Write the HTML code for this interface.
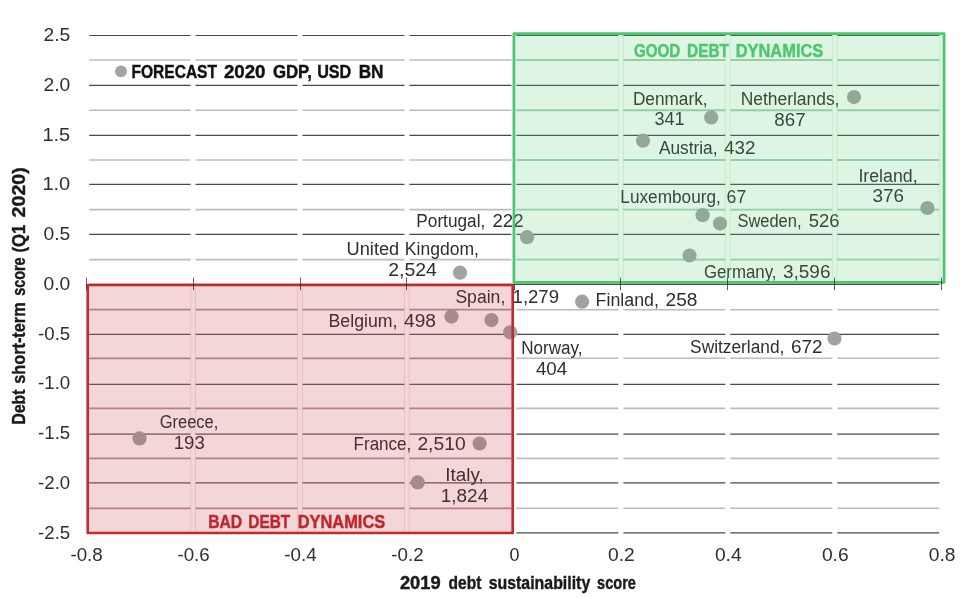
<!DOCTYPE html>
<html><head><meta charset="utf-8"><title>Debt dynamics</title>
<style>
html,body{margin:0;padding:0;background:#fff;}
svg{display:block;font-family:"Liberation Sans",sans-serif;will-change:transform;}
</style></head><body>
<svg width="969" height="598" viewBox="0 0 969 598">
<rect width="969" height="598" fill="#fff"/>
<g fill="none">
<line x1="89.2" x2="514.3" y1="532.80" y2="532.80" stroke="#6a5657" stroke-width="1.3"/>
<line x1="514.3" x2="939.2" y1="532.80" y2="532.80" stroke="#4a4a4a" stroke-width="1.2"/>
<line x1="89.2" x2="514.3" y1="508.30" y2="508.30" stroke="#b39696" stroke-width="1.7"/>
<line x1="514.3" x2="939.2" y1="508.30" y2="508.30" stroke="#bcbcbc" stroke-width="1.6"/>
<line x1="89.2" x2="514.3" y1="482.80" y2="482.80" stroke="#6a5657" stroke-width="1.3"/>
<line x1="514.3" x2="939.2" y1="482.80" y2="482.80" stroke="#4a4a4a" stroke-width="1.2"/>
<line x1="89.2" x2="514.3" y1="458.40" y2="458.40" stroke="#b39696" stroke-width="1.7"/>
<line x1="514.3" x2="939.2" y1="458.40" y2="458.40" stroke="#bcbcbc" stroke-width="1.6"/>
<line x1="89.2" x2="514.3" y1="434.10" y2="434.10" stroke="#6a5657" stroke-width="1.3"/>
<line x1="514.3" x2="939.2" y1="434.10" y2="434.10" stroke="#4a4a4a" stroke-width="1.2"/>
<line x1="89.2" x2="514.3" y1="408.40" y2="408.40" stroke="#b39696" stroke-width="1.7"/>
<line x1="514.3" x2="939.2" y1="408.40" y2="408.40" stroke="#bcbcbc" stroke-width="1.6"/>
<line x1="89.2" x2="514.3" y1="384.30" y2="384.30" stroke="#6a5657" stroke-width="1.3"/>
<line x1="514.3" x2="939.2" y1="384.30" y2="384.30" stroke="#4a4a4a" stroke-width="1.2"/>
<line x1="89.2" x2="514.3" y1="358.30" y2="358.30" stroke="#b39696" stroke-width="1.7"/>
<line x1="514.3" x2="939.2" y1="358.30" y2="358.30" stroke="#bcbcbc" stroke-width="1.6"/>
<line x1="89.2" x2="514.3" y1="334.40" y2="334.40" stroke="#6a5657" stroke-width="1.3"/>
<line x1="514.3" x2="939.2" y1="334.40" y2="334.40" stroke="#4a4a4a" stroke-width="1.2"/>
<line x1="89.2" x2="514.3" y1="309.70" y2="309.70" stroke="#b39696" stroke-width="1.7"/>
<line x1="514.3" x2="939.2" y1="309.70" y2="309.70" stroke="#bcbcbc" stroke-width="1.6"/>
<line x1="89.2" x2="513.0" y1="259.60" y2="259.60" stroke="#bcbcbc" stroke-width="1.6"/>
<line x1="513.0" x2="939.2" y1="259.60" y2="259.60" stroke="#a9ceb7" stroke-width="1.9"/>
<line x1="89.2" x2="513.0" y1="234.40" y2="234.40" stroke="#4a4a4a" stroke-width="1.2"/>
<line x1="513.0" x2="939.2" y1="234.40" y2="234.40" stroke="#44544a" stroke-width="1.2"/>
<line x1="89.2" x2="513.0" y1="209.60" y2="209.60" stroke="#bcbcbc" stroke-width="1.6"/>
<line x1="513.0" x2="939.2" y1="209.60" y2="209.60" stroke="#a9ceb7" stroke-width="1.9"/>
<line x1="89.2" x2="513.0" y1="184.40" y2="184.40" stroke="#4a4a4a" stroke-width="1.2"/>
<line x1="513.0" x2="939.2" y1="184.40" y2="184.40" stroke="#44544a" stroke-width="1.2"/>
<line x1="89.2" x2="513.0" y1="160.00" y2="160.00" stroke="#bcbcbc" stroke-width="1.6"/>
<line x1="513.0" x2="939.2" y1="160.00" y2="160.00" stroke="#a9ceb7" stroke-width="1.9"/>
<line x1="89.2" x2="513.0" y1="135.30" y2="135.30" stroke="#4a4a4a" stroke-width="1.2"/>
<line x1="513.0" x2="939.2" y1="135.30" y2="135.30" stroke="#44544a" stroke-width="1.2"/>
<line x1="89.2" x2="513.0" y1="110.30" y2="110.30" stroke="#bcbcbc" stroke-width="1.6"/>
<line x1="513.0" x2="939.2" y1="110.30" y2="110.30" stroke="#a9ceb7" stroke-width="1.9"/>
<line x1="89.2" x2="513.0" y1="85.40" y2="85.40" stroke="#4a4a4a" stroke-width="1.2"/>
<line x1="513.0" x2="939.2" y1="85.40" y2="85.40" stroke="#44544a" stroke-width="1.2"/>
<line x1="89.2" x2="513.0" y1="60.00" y2="60.00" stroke="#bcbcbc" stroke-width="1.6"/>
<line x1="513.0" x2="939.2" y1="60.00" y2="60.00" stroke="#a9ceb7" stroke-width="1.9"/>
<line x1="89.2" x2="513.0" y1="35.50" y2="35.50" stroke="#4a4a4a" stroke-width="1.2"/>
<line x1="513.0" x2="939.2" y1="35.50" y2="35.50" stroke="#44544a" stroke-width="1.2"/>
</g>
<g stroke="#fff" stroke-width="5">
<line x1="193.05" x2="193.05" y1="30" y2="540"/>
<line x1="300.00" x2="300.00" y1="30" y2="540"/>
<line x1="406.95" x2="406.95" y1="30" y2="540"/>
<line x1="513.90" x2="513.90" y1="30" y2="540"/>
<line x1="620.85" x2="620.85" y1="30" y2="540"/>
<line x1="727.80" x2="727.80" y1="30" y2="540"/>
<line x1="834.75" x2="834.75" y1="30" y2="540"/>
</g>
<line x1="89.2" x2="939.2" y1="284.40" y2="284.40" stroke="#4a4a4a" stroke-width="1.2"/>
<g fill="#a2a2a2">
<circle cx="121" cy="71.4" r="5.9"/>
<circle cx="139.5" cy="438.4" r="7.1"/>
<circle cx="479.6" cy="443.5" r="7.1"/>
<circle cx="417.7" cy="482.4" r="7.1"/>
<circle cx="527.1" cy="237.2" r="7.1"/>
<circle cx="460" cy="272.7" r="7.1"/>
<circle cx="491.5" cy="320.1" r="7.1"/>
<circle cx="451.5" cy="316.6" r="7.1"/>
<circle cx="510.2" cy="332.3" r="7.1"/>
<circle cx="582.1" cy="301.7" r="7.1"/>
<circle cx="834.5" cy="338.5" r="7.1"/>
<circle cx="711.2" cy="117.5" r="7.1"/>
<circle cx="643" cy="140.7" r="7.1"/>
<circle cx="702.6" cy="215.2" r="7.1"/>
<circle cx="720" cy="223.6" r="7.1"/>
<circle cx="689.5" cy="255.5" r="7.1"/>
<circle cx="854" cy="97.1" r="7.1"/>
<circle cx="927.4" cy="208" r="7.1"/>
</g>
<g>
<text x="43.50" y="41.1" font-size="18.4" fill="#2e2e2e" textLength="26.74" lengthAdjust="spacingAndGlyphs">2.5</text>
<text x="43.50" y="90.8" font-size="18.4" fill="#2e2e2e" textLength="26.74" lengthAdjust="spacingAndGlyphs">2.0</text>
<text x="42.41" y="140.6" font-size="18.4" fill="#2e2e2e" textLength="27.84" lengthAdjust="spacingAndGlyphs">1.5</text>
<text x="42.41" y="190.3" font-size="18.4" fill="#2e2e2e" textLength="27.84" lengthAdjust="spacingAndGlyphs">1.0</text>
<text x="43.50" y="240.1" font-size="18.4" fill="#2e2e2e" textLength="26.74" lengthAdjust="spacingAndGlyphs">0.5</text>
<text x="43.50" y="289.8" font-size="18.4" fill="#2e2e2e" textLength="26.74" lengthAdjust="spacingAndGlyphs">0.0</text>
<text x="38.10" y="339.6" font-size="18.4" fill="#2e2e2e" textLength="32.13" lengthAdjust="spacingAndGlyphs">-0.5</text>
<text x="38.10" y="389.3" font-size="18.4" fill="#2e2e2e" textLength="32.13" lengthAdjust="spacingAndGlyphs">-1.0</text>
<text x="38.10" y="439.1" font-size="18.4" fill="#2e2e2e" textLength="32.13" lengthAdjust="spacingAndGlyphs">-1.5</text>
<text x="38.10" y="488.8" font-size="18.4" fill="#2e2e2e" textLength="32.13" lengthAdjust="spacingAndGlyphs">-2.0</text>
<text x="38.10" y="538.6" font-size="18.4" fill="#2e2e2e" textLength="32.13" lengthAdjust="spacingAndGlyphs">-2.5</text>
<text x="70.45" y="561.1" font-size="18.2" fill="#2e2e2e" textLength="32.32" lengthAdjust="spacingAndGlyphs">-0.8</text>
<text x="177.40" y="561.1" font-size="18.2" fill="#2e2e2e" textLength="32.32" lengthAdjust="spacingAndGlyphs">-0.6</text>
<text x="284.35" y="561.1" font-size="18.2" fill="#2e2e2e" textLength="32.32" lengthAdjust="spacingAndGlyphs">-0.4</text>
<text x="391.30" y="561.1" font-size="18.2" fill="#2e2e2e" textLength="32.32" lengthAdjust="spacingAndGlyphs">-0.2</text>
<text x="509.40" y="561.1" font-size="18.2" fill="#2e2e2e" textLength="10.01" lengthAdjust="spacingAndGlyphs">0</text>
<text x="608.00" y="561.1" font-size="18.2" fill="#2e2e2e" textLength="26.72" lengthAdjust="spacingAndGlyphs">0.2</text>
<text x="714.95" y="561.1" font-size="18.2" fill="#2e2e2e" textLength="26.72" lengthAdjust="spacingAndGlyphs">0.4</text>
<text x="821.90" y="561.1" font-size="18.2" fill="#2e2e2e" textLength="26.72" lengthAdjust="spacingAndGlyphs">0.6</text>
<text x="928.85" y="561.1" font-size="18.2" fill="#2e2e2e" textLength="26.72" lengthAdjust="spacingAndGlyphs">0.8</text>
<text x="399.90" y="589.1" font-size="17.5" fill="#1a1a1a" font-weight="bold" stroke="#1a1a1a" stroke-width="0.4" textLength="40.72" lengthAdjust="spacingAndGlyphs">2019</text>
<text x="448.60" y="589.1" font-size="17.5" fill="#1a1a1a" font-weight="bold" stroke="#1a1a1a" stroke-width="0.4" textLength="32.85" lengthAdjust="spacingAndGlyphs">debt</text>
<text x="488.70" y="589.1" font-size="17.5" fill="#1a1a1a" font-weight="bold" stroke="#1a1a1a" stroke-width="0.4" textLength="101.56" lengthAdjust="spacingAndGlyphs">sustainability</text>
<text x="597.10" y="589.1" font-size="17.5" fill="#1a1a1a" font-weight="bold" stroke="#1a1a1a" stroke-width="0.4" textLength="38.88" lengthAdjust="spacingAndGlyphs">score</text>
<text x="131.44" y="77.5" font-size="18" fill="#111" font-weight="bold" stroke="#111" stroke-width="0.4" textLength="85.56" lengthAdjust="spacingAndGlyphs">FORECAST</text>
<text x="223.90" y="77.5" font-size="18" fill="#111" font-weight="bold" stroke="#111" stroke-width="0.4" textLength="41.61" lengthAdjust="spacingAndGlyphs">2020</text>
<text x="272.90" y="77.5" font-size="18" fill="#111" font-weight="bold" stroke="#111" stroke-width="0.4" textLength="38.93" lengthAdjust="spacingAndGlyphs">GDP,</text>
<text x="317.20" y="77.5" font-size="18" fill="#111" font-weight="bold" stroke="#111" stroke-width="0.4" textLength="34.10" lengthAdjust="spacingAndGlyphs">USD</text>
<text x="358.65" y="77.5" font-size="18" fill="#111" font-weight="bold" stroke="#111" stroke-width="0.4" textLength="24.81" lengthAdjust="spacingAndGlyphs">BN</text>
<text x="634.10" y="56.5" font-size="18" fill="#4fc672" font-weight="bold" stroke="#4fc672" stroke-width="0.4" textLength="46.20" lengthAdjust="spacingAndGlyphs">GOOD</text>
<text x="687.04" y="56.5" font-size="18" fill="#4fc672" font-weight="bold" stroke="#4fc672" stroke-width="0.4" textLength="41.95" lengthAdjust="spacingAndGlyphs">DEBT</text>
<text x="735.69" y="56.5" font-size="18" fill="#4fc672" font-weight="bold" stroke="#4fc672" stroke-width="0.4" textLength="87.62" lengthAdjust="spacingAndGlyphs">DYNAMICS</text>
<text x="208.20" y="528.1" font-size="17.5" fill="#c1272d" font-weight="bold" stroke="#c1272d" stroke-width="0.4" textLength="33.97" lengthAdjust="spacingAndGlyphs">BAD</text>
<text x="248.32" y="528.1" font-size="17.5" fill="#c1272d" font-weight="bold" stroke="#c1272d" stroke-width="0.4" textLength="41.81" lengthAdjust="spacingAndGlyphs">DEBT</text>
<text x="297.66" y="528.1" font-size="17.5" fill="#c1272d" font-weight="bold" stroke="#c1272d" stroke-width="0.4" textLength="87.57" lengthAdjust="spacingAndGlyphs">DYNAMICS</text>
<text x="159.70" y="428.3" font-size="18" fill="#2e2e2e" textLength="58.62" lengthAdjust="spacingAndGlyphs">Greece,</text>
<text x="173.66" y="448.9" font-size="18" fill="#2e2e2e" textLength="31.15" lengthAdjust="spacingAndGlyphs">193</text>
<text x="353.55" y="450.2" font-size="18" fill="#2e2e2e" textLength="57.80" lengthAdjust="spacingAndGlyphs">France,</text>
<text x="417.40" y="450.2" font-size="18" fill="#2e2e2e" textLength="48.21" lengthAdjust="spacingAndGlyphs">2,510</text>
<text x="445.25" y="480.8" font-size="18" fill="#2e2e2e" textLength="38.39" lengthAdjust="spacingAndGlyphs">Italy,</text>
<text x="440.75" y="501.6" font-size="18" fill="#2e2e2e" textLength="47.47" lengthAdjust="spacingAndGlyphs">1,824</text>
<text x="416.34" y="227.1" font-size="18" fill="#2e2e2e" textLength="68.91" lengthAdjust="spacingAndGlyphs">Portugal,</text>
<text x="492.50" y="227.1" font-size="18" fill="#2e2e2e" textLength="31.11" lengthAdjust="spacingAndGlyphs">222</text>
<text x="346.59" y="255.4" font-size="18" fill="#2e2e2e" textLength="52.63" lengthAdjust="spacingAndGlyphs">United</text>
<text x="404.82" y="255.4" font-size="18" fill="#2e2e2e" textLength="74.15" lengthAdjust="spacingAndGlyphs">Kingdom,</text>
<text x="388.20" y="276.0" font-size="18" fill="#2e2e2e" textLength="48.71" lengthAdjust="spacingAndGlyphs">2,524</text>
<text x="455.40" y="302.8" font-size="18" fill="#2e2e2e" textLength="49.88" lengthAdjust="spacingAndGlyphs">Spain,</text>
<text x="512.57" y="302.8" font-size="18" fill="#2e2e2e" textLength="46.44" lengthAdjust="spacingAndGlyphs">1,279</text>
<text x="328.52" y="326.9" font-size="18" fill="#2e2e2e" textLength="68.97" lengthAdjust="spacingAndGlyphs">Belgium,</text>
<text x="404.00" y="326.9" font-size="18" fill="#2e2e2e" textLength="31.91" lengthAdjust="spacingAndGlyphs">498</text>
<text x="595.61" y="305.6" font-size="18" fill="#2e2e2e" textLength="63.38" lengthAdjust="spacingAndGlyphs">Finland,</text>
<text x="665.50" y="305.6" font-size="18" fill="#2e2e2e" textLength="31.91" lengthAdjust="spacingAndGlyphs">258</text>
<text x="521.15" y="354.0" font-size="18" fill="#2e2e2e" textLength="61.30" lengthAdjust="spacingAndGlyphs">Norway,</text>
<text x="535.90" y="374.6" font-size="18" fill="#2e2e2e" textLength="31.31" lengthAdjust="spacingAndGlyphs">404</text>
<text x="690.10" y="352.8" font-size="18" fill="#2e2e2e" textLength="94.26" lengthAdjust="spacingAndGlyphs">Switzerland,</text>
<text x="790.90" y="352.8" font-size="18" fill="#2e2e2e" textLength="31.61" lengthAdjust="spacingAndGlyphs">672</text>
<text x="632.94" y="104.5" font-size="18" fill="#2e2e2e" textLength="74.61" lengthAdjust="spacingAndGlyphs">Denmark,</text>
<text x="654.40" y="124.8" font-size="18" fill="#2e2e2e" textLength="30.11" lengthAdjust="spacingAndGlyphs">341</text>
<text x="740.63" y="105.2" font-size="18" fill="#2e2e2e" textLength="98.84" lengthAdjust="spacingAndGlyphs">Netherlands,</text>
<text x="774.30" y="125.8" font-size="18" fill="#2e2e2e" textLength="31.31" lengthAdjust="spacingAndGlyphs">867</text>
<text x="658.90" y="154.1" font-size="18" fill="#2e2e2e" textLength="58.66" lengthAdjust="spacingAndGlyphs">Austria,</text>
<text x="724.10" y="154.1" font-size="18" fill="#2e2e2e" textLength="31.41" lengthAdjust="spacingAndGlyphs">432</text>
<text x="620.34" y="202.9" font-size="18" fill="#2e2e2e" textLength="100.51" lengthAdjust="spacingAndGlyphs">Luxembourg,</text>
<text x="726.60" y="202.9" font-size="18" fill="#2e2e2e" textLength="19.61" lengthAdjust="spacingAndGlyphs">67</text>
<text x="737.40" y="227.2" font-size="18" fill="#2e2e2e" textLength="64.12" lengthAdjust="spacingAndGlyphs">Sweden,</text>
<text x="808.70" y="227.2" font-size="18" fill="#2e2e2e" textLength="30.81" lengthAdjust="spacingAndGlyphs">526</text>
<text x="703.90" y="278.4" font-size="18" fill="#2e2e2e" textLength="72.64" lengthAdjust="spacingAndGlyphs">Germany,</text>
<text x="782.90" y="278.4" font-size="18" fill="#2e2e2e" textLength="47.61" lengthAdjust="spacingAndGlyphs">3,596</text>
<text x="858.41" y="182.1" font-size="18" fill="#2e2e2e" textLength="59.17" lengthAdjust="spacingAndGlyphs">Ireland,</text>
<text x="872.40" y="202.4" font-size="18" fill="#2e2e2e" textLength="31.61" lengthAdjust="spacingAndGlyphs">376</text>
</g>
<text transform="translate(25.4,424.39) rotate(-90)" font-size="17.5" font-weight="bold" fill="#1a1a1a" stroke="#1a1a1a" stroke-width="0.4" textLength="34.74" lengthAdjust="spacingAndGlyphs">Debt</text>
<text transform="translate(25.4,383.70) rotate(-90)" font-size="17.5" font-weight="bold" fill="#1a1a1a" stroke="#1a1a1a" stroke-width="0.4" textLength="81.32" lengthAdjust="spacingAndGlyphs">short-term</text>
<text transform="translate(25.4,295.80) rotate(-90)" font-size="17.5" font-weight="bold" fill="#1a1a1a" stroke="#1a1a1a" stroke-width="0.4" textLength="38.38" lengthAdjust="spacingAndGlyphs">score</text>
<text transform="translate(25.4,252.50) rotate(-90)" font-size="17.5" font-weight="bold" fill="#1a1a1a" stroke="#1a1a1a" stroke-width="0.4" textLength="27.84" lengthAdjust="spacingAndGlyphs">(Q1</text>
<text transform="translate(25.4,217.40) rotate(-90)" font-size="17.5" font-weight="bold" fill="#1a1a1a" stroke="#1a1a1a" stroke-width="0.4" textLength="50.13" lengthAdjust="spacingAndGlyphs">2020)</text>
<rect x="87.7" y="285.0" width="425.0" height="248.0" fill="#c1272d" fill-opacity="0.19"/>
<rect x="513.9" y="33.7" width="430.2" height="248.6" fill="#46c864" fill-opacity="0.185"/>
<g stroke="#c1272d" stroke-opacity="0.16" stroke-width="0.8">
<line x1="190.65" x2="190.65" y1="285.0" y2="533.0"/>
<line x1="195.45" x2="195.45" y1="285.0" y2="533.0"/>
<line x1="297.60" x2="297.60" y1="285.0" y2="533.0"/>
<line x1="302.40" x2="302.40" y1="285.0" y2="533.0"/>
<line x1="404.55" x2="404.55" y1="285.0" y2="533.0"/>
<line x1="409.35" x2="409.35" y1="285.0" y2="533.0"/>
</g>
<g stroke="#4fc672" stroke-opacity="0.22" stroke-width="0.8">
<line x1="618.45" x2="618.45" y1="33.7" y2="282.3"/>
<line x1="623.25" x2="623.25" y1="33.7" y2="282.3"/>
<line x1="725.40" x2="725.40" y1="33.7" y2="282.3"/>
<line x1="730.20" x2="730.20" y1="33.7" y2="282.3"/>
<line x1="832.35" x2="832.35" y1="33.7" y2="282.3"/>
<line x1="837.15" x2="837.15" y1="33.7" y2="282.3"/>
<line x1="939.30" x2="939.30" y1="33.7" y2="282.3"/>
</g>
<rect x="87.7" y="285.0" width="425.0" height="248.0" fill="none" stroke="#c4282d" stroke-width="2.6" stroke-linejoin="round"/>
<rect x="513.9" y="33.7" width="430.2" height="248.6" fill="none" stroke="#4ac76c" stroke-width="2.7" stroke-linejoin="round"/>
<g stroke="#222" stroke-width="1" stroke-opacity="0.72">
<line x1="86.5" x2="86.5" y1="277.6" y2="290.2"/>
<line x1="193.5" x2="193.5" y1="277.6" y2="290.2"/>
<line x1="300.5" x2="300.5" y1="277.6" y2="290.2"/>
<line x1="406.5" x2="406.5" y1="277.6" y2="290.2"/>
<line x1="620.5" x2="620.5" y1="277.6" y2="290.2"/>
<line x1="727.5" x2="727.5" y1="277.6" y2="290.2"/>
<line x1="834.5" x2="834.5" y1="277.6" y2="290.2"/>
<line x1="941.5" x2="941.5" y1="277.6" y2="290.2"/>
<line x1="514.5" x2="514.5" y1="284" y2="290.5"/>
</g>
</svg>
</body></html>
